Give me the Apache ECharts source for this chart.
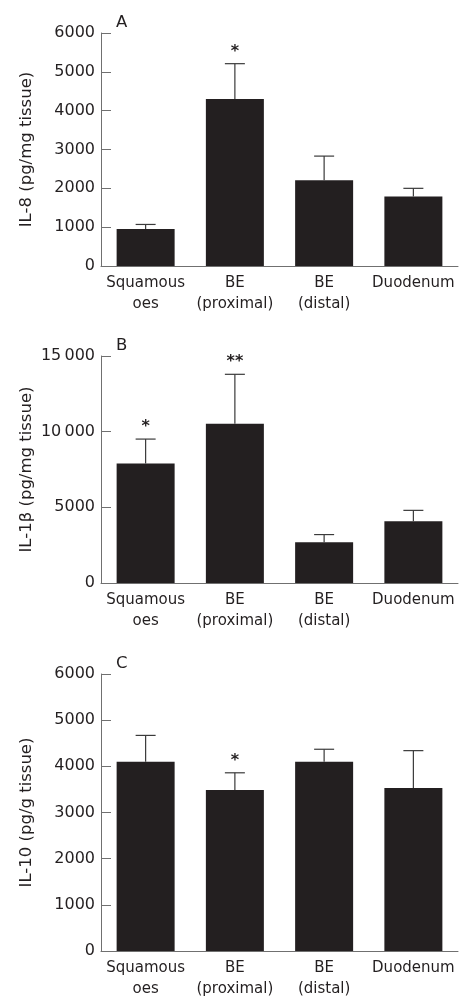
<!DOCTYPE html>
<html>
<head>
<meta charset="utf-8">
<script src="https://cdn.jsdelivr.net/npm/echarts@6/dist/echarts.min.js"></script>
<style>
html,body{margin:0;padding:0;background:#fff;}
#chart{width:459px;height:1000px;}
</style>
</head>
<body>
<div id="chart"></div>
<script>
// ---- data ----
var categories = ['Squamous\noes', 'BE\n(proximal)', 'BE\n(distal)', 'Duodenum'];

var il8Mean = [950, 4300, 2210, 1790];
var il8Err  = [120, 910, 620, 210];
var il8Sig  = ['', '*', '', ''];

var il1bMean = [7900, 10530, 2690, 4080];
var il1bErr  = [1610, 3260, 510, 720];
var il1bSig  = ['*', '**', '', ''];

var il10Mean = [4100, 3490, 4100, 3530];
var il10Err  = [570, 370, 270, 810];
var il10Sig  = ['', '*', '', ''];

var ticksA = [0, 1000, 2000, 3000, 4000, 5000, 6000];
var tickLabelsA = ['0', '1000', '2000', '3000', '4000', '5000', '6000'];
var ticksB = [0, 5000, 10000, 15000];
var tickLabelsB = ['0', '5000', '10\u2009000', '15\u2009000'];
var ticksC = [0, 1000, 2000, 3000, 4000, 5000, 6000];
var tickLabelsC = ['0', '1000', '2000', '3000', '4000', '5000', '6000'];

var panelLetters = ['A', 'B', 'C'];
var yNames = ['IL-8 (pg/mg tissue)', 'IL-1\u03b2 (pg/mg tissue)', 'IL-10 (pg/g tissue)'];

// ---- style ----
var FONT = 'DejaVu Sans';
var INK = '#231f20';
var AXIS = '#707070';

var grids = [
  {left: 101, width: 357, top: 33, height: 233},
  {left: 101, width: 357, top: 356, height: 227},
  {left: 101, width: 357, top: 674, height: 280}
];

function labelFn(ticks, labels) {
  return function (v) {
    var i = ticks.indexOf(v);
    return i >= 0 ? labels[i] : '';
  };
}

var panels = [
  {mean: il8Mean, err: il8Err, sig: il8Sig, max: 6000, interval: 1000, ticks: ticksA, labels: tickLabelsA},
  {mean: il1bMean, err: il1bErr, sig: il1bSig, max: 15000, interval: 5000, ticks: ticksB, labels: tickLabelsB},
  {mean: il10Mean, err: il10Err, sig: il10Sig, max: 6000, interval: 1000, ticks: ticksC, labels: tickLabelsC}
];

var xAxes = [], yAxes = [], series = [], titles = [];

panels.forEach(function (p, i) {
  xAxes.push({
    type: 'category', gridIndex: i, data: categories,
    axisLine: {show: true, lineStyle: {color: AXIS, width: 1}},
    axisTick: {show: false},
    axisLabel: {fontFamily: FONT, fontSize: 15, color: INK, margin: 7, lineHeight: 21, interval: 0},
    splitLine: {show: false}
  });
  yAxes.push({
    type: 'value', gridIndex: i, min: 0, max: p.max, interval: p.interval,
    name: yNames[i], nameLocation: 'middle', nameGap: 66, nameRotate: 90,
    nameMoveOverlap: false,
    nameTextStyle: {fontFamily: FONT, fontSize: 16.5, color: INK},
    axisLine: {show: true, lineStyle: {color: AXIS, width: 1}},
    axisTick: {show: true, inside: true, length: 10, lineStyle: {color: AXIS, width: 1}},
    axisLabel: {fontFamily: FONT, fontSize: 16, color: INK, margin: 6, formatter: labelFn(p.ticks, p.labels)},
    splitLine: {show: false}
  });
  series.push({
    type: 'bar', xAxisIndex: i, yAxisIndex: i, data: p.mean,
    barWidth: 58, itemStyle: {color: INK}, silent: true, z: 2
  });
  var errData = p.mean.map(function (m, k) { return [k, m, m + p.err[k]]; });
  series.push({
    type: 'custom', xAxisIndex: i, yAxisIndex: i, data: errData, z: 3, silent: true,
    renderItem: (function (sig) {
      return function (params, api) {
        var k = api.value(0);
        var lo = api.coord([k, api.value(1)]);
        var hi = api.coord([k, api.value(2)]);
        var st = {stroke: '#3a3a3a', lineWidth: 1.2};
        var children = [
          {type: 'line', shape: {x1: hi[0], y1: lo[1], x2: hi[0], y2: hi[1]}, style: st},
          {type: 'line', shape: {x1: hi[0] - 10, y1: hi[1], x2: hi[0] + 10, y2: hi[1]}, style: st}
        ];
        var s = sig[params.dataIndex];
        if (s) {
          children.push({type: 'text', x: hi[0], y: hi[1] - 4,
            style: {text: s, fontFamily: FONT, fontSize: 16, fontWeight: 'bold', fill: INK, align: 'center', verticalAlign: 'bottom'}});
        }
        return {type: 'group', children: children};
      };
    })(p.sig)
  });
  titles.push({
    text: panelLetters[i], left: 111, top: grids[i].top - 24,
    textStyle: {fontFamily: FONT, fontSize: 16.5, fontWeight: 'normal', color: INK}
  });
});

var chart = echarts.init(document.getElementById('chart'), null, {renderer: 'canvas'});
chart.setOption({
  animation: false,
  backgroundColor: '#fff',
  title: titles,
  grid: grids,
  xAxis: xAxes,
  yAxis: yAxes,
  series: series
});
</script>
</body>
</html>
